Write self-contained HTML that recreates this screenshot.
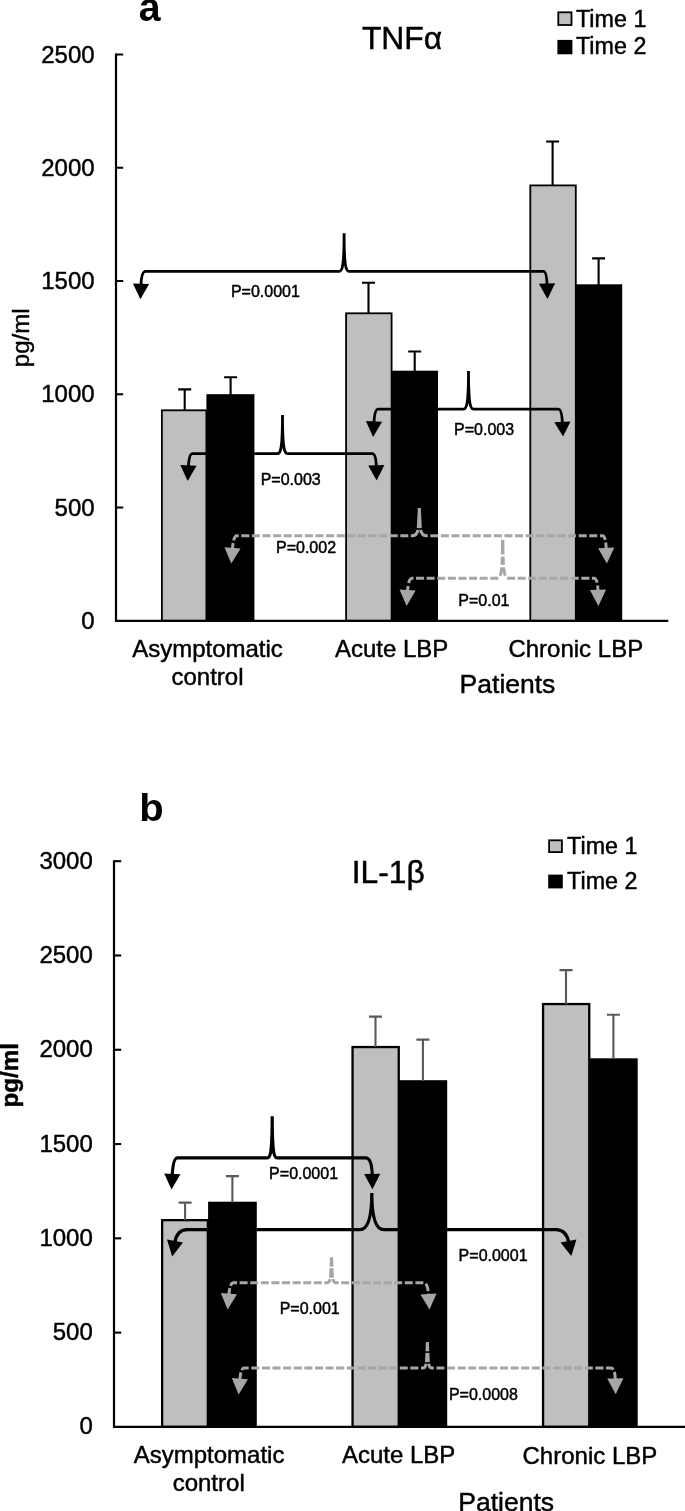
<!DOCTYPE html>
<html><head><meta charset="utf-8"><title>Figure</title>
<style>
html,body{margin:0;padding:0;background:#fff;}
svg{display:block;}
text{font-family:"Liberation Sans",Arial,sans-serif;fill:#000;stroke:#000;stroke-width:0.45px;stroke-linejoin:round;}
</style></head><body>
<svg width="685" height="1511" viewBox="0 0 685 1511">
<rect width="685" height="1511" fill="#fff"/>
<g id="chart-a">
<rect x="161.9" y="410.3" width="44.5" height="210.5" fill="#bfbfbf" stroke="#000" stroke-width="1.8"/>
<rect x="206.4" y="394.2" width="48" height="226.6" fill="#000"/>
<rect x="346.1" y="313.3" width="45.5" height="307.5" fill="#bfbfbf" stroke="#000" stroke-width="1.8"/>
<rect x="391.6" y="370.7" width="46.4" height="250.1" fill="#000"/>
<rect x="530.3" y="185.4" width="45.5" height="435.4" fill="#bfbfbf" stroke="#000" stroke-width="1.8"/>
<rect x="575.8" y="284.3" width="46.4" height="336.5" fill="#000"/>
<path d="M178.2 389.4H191.2M184.7 389.4V410" stroke="#000" stroke-width="2.1" fill="none"/>
<path d="M224.1 377.2H237.1M230.6 377.2V395" stroke="#000" stroke-width="2.1" fill="none"/>
<path d="M362 282.8H375M368.5 282.8V313" stroke="#000" stroke-width="2.1" fill="none"/>
<path d="M408.2 351.5H421.2M414.7 351.5V371" stroke="#000" stroke-width="2.1" fill="none"/>
<path d="M546.1 141.5H559.1M552.6 141.5V185" stroke="#000" stroke-width="2.1" fill="none"/>
<path d="M592.1 258.4H605.1M598.6 258.4V285" stroke="#000" stroke-width="2.1" fill="none"/>
<path d="M116 53.6V620.8H668.3" stroke="#000" stroke-width="2.2" fill="none"/>
<path d="M116 54.5H123.2" stroke="#000" stroke-width="2"/>
<text x="94.6" y="62.7" font-size="24" text-anchor="end">2500</text>
<path d="M116 167.76H123.2" stroke="#000" stroke-width="2"/>
<text x="94.6" y="175.96" font-size="24" text-anchor="end">2000</text>
<path d="M116 281.02H123.2" stroke="#000" stroke-width="2"/>
<text x="94.6" y="289.22" font-size="24" text-anchor="end">1500</text>
<path d="M116 394.28H123.2" stroke="#000" stroke-width="2"/>
<text x="94.6" y="402.48" font-size="24" text-anchor="end">1000</text>
<path d="M116 507.54H123.2" stroke="#000" stroke-width="2"/>
<text x="94.6" y="515.74" font-size="24" text-anchor="end">500</text>
<text x="94.6" y="629" font-size="24" text-anchor="end">0</text>
<path d="M140.93 285.57Q141.47 271.45 145.5 271.45H339.2C342.78 271.45 344.1 263.45 344.1 233.2C344.1 263.45 345.42 271.45 349 271.45H543.5Q546.61 271.45 547.06 285.36" stroke="#000" stroke-width="2.8" fill="none"/>
<path d="M132.91 283.39L149.09 284.01L140.4 299.3Z" fill="#000"/>
<path d="M538.9 283.76L555.1 283.24L547.5 299Z" fill="#000"/>
<path d="M188.36 467.27Q189.02 453.55 192.5 453.55H277.6C281.18 453.55 282.5 445.55 282.5 415.1C282.5 445.55 283.82 453.55 287.4 453.55H372.3Q376 453.55 376.35 467.04" stroke="#000" stroke-width="2.8" fill="none"/>
<path d="M180.36 465.01L196.54 465.79L187.7 481Z" fill="#000"/>
<path d="M368.2 465.41L384.4 464.99L376.7 480.5Z" fill="#000"/>
<path d="M373.89 423.27Q374.71 409.1 378 409.1H463.6C467.18 409.1 468.5 401.1 468.5 371C468.5 401.1 469.82 409.1 473.4 409.1H558.4Q561.78 409.1 562.48 423.64" stroke="#000" stroke-width="2.8" fill="none"/>
<path d="M365.91 420.93L382.09 421.87L373.1 437Z" fill="#000"/>
<path d="M554.31 422.29L570.49 421.51L563.1 436.4Z" fill="#000"/>
<path d="M419.3 508.1L418.3 527.8Q417.7 535.8 411.8 535.8H236.8Q233.41 535.8 232.36 549.7" stroke="#a6a6a6" stroke-width="3.0" fill="none" stroke-dasharray="20 1.5 10.5 2.5 8 2.6 8 2.6 8 2.6 8 2.6 8 2.6 8 2.6 8 2.6 8 2.6 8 2.6 8 2.6 8 2.6 8 2.6 8 2.6 8 2.6 8 2.6 8 2.6 8 2.6 8 2.6 8 2.6 8 2.6 8 2.6 8 2.6 8 2.6 8 2.6 8 2.6 8 2.6 8 2.6 8 2.6 8 2.6 8 2.6 8 2.6 8 2.6 8 2.6 8 2.6 8 2.6 8 2.6 8 2.6 8 2.6 8 2.6 8 2.6 8 2.6 8 2.6 8 2.6 8 2.6 8 2.6"/>
<path d="M419.3 508.1L420.3 527.8Q420.9 535.8 426.8 535.8H602.5Q605.67 535.8 606.28 549.7" stroke="#a6a6a6" stroke-width="3.0" fill="none" stroke-dasharray="20 1.5 10.5 2.5 8 2.6 8 2.6 8 2.6 8 2.6 8 2.6 8 2.6 8 2.6 8 2.6 8 2.6 8 2.6 8 2.6 8 2.6 8 2.6 8 2.6 8 2.6 8 2.6 8 2.6 8 2.6 8 2.6 8 2.6 8 2.6 8 2.6 8 2.6 8 2.6 8 2.6 8 2.6 8 2.6 8 2.6 8 2.6 8 2.6 8 2.6 8 2.6 8 2.6 8 2.6 8 2.6 8 2.6 8 2.6 8 2.6 8 2.6 8 2.6 8 2.6 8 2.6 8 2.6 8 2.6 8 2.6"/>
<path d="M224.42 547.19L240.58 548.41L231.3 563.6Z" fill="#a6a6a6"/>
<path d="M598.11 548.16L614.29 547.44L606.9 563.6Z" fill="#a6a6a6"/>
<path d="M502.7 540L502 566.25Q500.5 578.25 498.5 578.25H412Q408.33 578.25 407.48 591.92" stroke="#a6a6a6" stroke-width="3.0" fill="none" stroke-dasharray="14.3 2.5 8 2.5 8.5 3.5 8 2.6 8 2.6 8 2.6 8 2.6 8 2.6 8 2.6 8 2.6 8 2.6 8 2.6 8 2.6 8 2.6 8 2.6 8 2.6 8 2.6 8 2.6 8 2.6 8 2.6 8 2.6 8 2.6 8 2.6 8 2.6 8 2.6 8 2.6 8 2.6 8 2.6 8 2.6 8 2.6 8 2.6 8 2.6 8 2.6 8 2.6 8 2.6 8 2.6 8 2.6 8 2.6 8 2.6 8 2.6 8 2.6 8 2.6 8 2.6 8 2.6 8 2.6 8 2.6 8 2.6 8 2.6"/>
<path d="M502.7 540L503.4 566.25Q504.9 578.25 506.9 578.25H594Q597.71 578.25 598.05 591.73" stroke="#a6a6a6" stroke-width="3.0" fill="none" stroke-dasharray="14.3 2.5 8 2.5 8.5 3.5 8 2.6 8 2.6 8 2.6 8 2.6 8 2.6 8 2.6 8 2.6 8 2.6 8 2.6 8 2.6 8 2.6 8 2.6 8 2.6 8 2.6 8 2.6 8 2.6 8 2.6 8 2.6 8 2.6 8 2.6 8 2.6 8 2.6 8 2.6 8 2.6 8 2.6 8 2.6 8 2.6 8 2.6 8 2.6 8 2.6 8 2.6 8 2.6 8 2.6 8 2.6 8 2.6 8 2.6 8 2.6 8 2.6 8 2.6 8 2.6 8 2.6 8 2.6 8 2.6 8 2.6 8 2.6"/>
<path d="M399.52 589.49L415.68 590.51L406.6 606Z" fill="#a6a6a6"/>
<path d="M589.9 590L606.1 589.6L598.4 605.9Z" fill="#a6a6a6"/>
<text x="265.4" y="297.1" font-size="16" text-anchor="middle">P=0.0001</text>
<text x="290.7" y="484.6" font-size="16" text-anchor="middle">P=0.003</text>
<text x="484.1" y="434.7" font-size="16" text-anchor="middle">P=0.003</text>
<text x="306" y="553.4" font-size="16" text-anchor="middle">P=0.002</text>
<text x="483.9" y="606.4" font-size="16" text-anchor="middle">P=0.01</text>
<text transform="translate(149.6,21.3) scale(0.98,1)" font-size="40" text-anchor="middle" font-weight="bold" style="stroke:none">a</text>
<text x="402" y="48.5" font-size="31.8" text-anchor="middle">TNFα</text>
<rect x="558.3" y="12.3" width="13.2" height="12.7" fill="#bfbfbf" stroke="#000" stroke-width="1.8"/>
<rect x="557.4" y="39.9" width="15" height="14.4" fill="#000"/>
<text x="576" y="26.6" font-size="23.3">Time 1</text>
<text x="576" y="54.3" font-size="23.3">Time 2</text>
<text transform="translate(28.9,337.8) rotate(-90)" font-size="24" text-anchor="middle">pg/ml</text>
<text x="207.5" y="657.1" font-size="24" text-anchor="middle">Asymptomatic</text>
<text x="207.5" y="684.7" font-size="24" text-anchor="middle">control</text>
<text x="391.6" y="657.1" font-size="24" text-anchor="middle">Acute LBP</text>
<text x="575.8" y="657.1" font-size="24" text-anchor="middle">Chronic LBP</text>
<text x="507.5" y="692.7" font-size="26.5" text-anchor="middle">Patients</text>
</g>
<g id="chart-b">
<rect x="162.15" y="1220.15" width="45.7" height="206.75" fill="#bfbfbf" stroke="#000" stroke-width="2.3"/>
<rect x="208.1" y="1201.7" width="48.7" height="225.2" fill="#000"/>
<rect x="352.55" y="1047.05" width="46.2" height="379.85" fill="#bfbfbf" stroke="#000" stroke-width="2.3"/>
<rect x="399" y="1080.2" width="48.2" height="346.7" fill="#000"/>
<rect x="543.05" y="1004.05" width="46.2" height="422.85" fill="#bfbfbf" stroke="#000" stroke-width="2.3"/>
<rect x="589.5" y="1058.3" width="48.2" height="368.6" fill="#000"/>
<path d="M178.6 1202.6H191.6M185.1 1202.6V1220" stroke="#595959" stroke-width="2.1" fill="none"/>
<path d="M225.9 1176.1H238.9M232.4 1176.1V1202.5" stroke="#595959" stroke-width="2.1" fill="none"/>
<path d="M369 1016.6H382M375.5 1016.6V1047" stroke="#595959" stroke-width="2.1" fill="none"/>
<path d="M416.4 1039.6H429.4M422.9 1039.6V1081" stroke="#595959" stroke-width="2.1" fill="none"/>
<path d="M559.5 970.1H572.5M566 970.1V1004" stroke="#595959" stroke-width="2.1" fill="none"/>
<path d="M606.9 1014.8H619.9M613.4 1014.8V1059" stroke="#595959" stroke-width="2.1" fill="none"/>
<path d="M114 860.3V1426.9H685" stroke="#000" stroke-width="2.2" fill="none"/>
<path d="M114 861.2H121.2" stroke="#000" stroke-width="2.1"/>
<text x="92.8" y="868.7" font-size="24" text-anchor="end">3000</text>
<path d="M114 955.48H121.2" stroke="#000" stroke-width="2.1"/>
<text x="92.8" y="962.98" font-size="24" text-anchor="end">2500</text>
<path d="M114 1049.77H121.2" stroke="#000" stroke-width="2.1"/>
<text x="92.8" y="1057.27" font-size="24" text-anchor="end">2000</text>
<path d="M114 1144.05H121.2" stroke="#000" stroke-width="2.1"/>
<text x="92.8" y="1151.55" font-size="24" text-anchor="end">1500</text>
<path d="M114 1238.33H121.2" stroke="#000" stroke-width="2.1"/>
<text x="92.8" y="1245.83" font-size="24" text-anchor="end">1000</text>
<path d="M114 1332.62H121.2" stroke="#000" stroke-width="2.1"/>
<text x="92.8" y="1340.12" font-size="24" text-anchor="end">500</text>
<text x="92.8" y="1434.4" font-size="24" text-anchor="end">0</text>
<path d="M172.2 1175.77Q173.12 1157.9 177.5 1157.9H267.3C270.88 1157.9 272.2 1149.9 272.2 1116.3C272.2 1149.9 273.52 1157.9 277.1 1157.9H365.5Q371.99 1157.9 372.22 1175.75" stroke="#000" stroke-width="3.2" fill="none"/>
<path d="M164.21 1173.49L180.39 1174.31L171.5 1189.5Z" fill="#000"/>
<path d="M364.1 1174.01L380.3 1173.79L372.4 1189.3Z" fill="#000"/>
<path d="M174.66 1242.85Q177.05 1229.7 187 1229.7H359.8C368.56 1229.7 371.8 1215.7 371.8 1193C371.8 1215.7 375.04 1229.7 383.8 1229.7H556Q566.4 1229.7 568.84 1242.81" stroke="#000" stroke-width="3.2" fill="none"/>
<path d="M167.03 1239.55L182.97 1242.45L172.2 1256.4Z" fill="#000"/>
<path d="M560.54 1242.48L576.46 1239.52L571.3 1256.1Z" fill="#000"/>
<path d="M331.5 1257.5L330.6 1275.8Q330.1 1282.8 327 1282.8H233.5Q229.8 1282.8 228.74 1295.6" stroke="#a6a6a6" stroke-width="3.0" fill="none" stroke-dasharray="9 1.8 9 1.5 8 2.6 8 2.6 8 2.6 8 2.6 8 2.6 8 2.6 8 2.6 8 2.6 8 2.6 8 2.6 8 2.6 8 2.6 8 2.6 8 2.6 8 2.6 8 2.6 8 2.6 8 2.6 8 2.6 8 2.6 8 2.6 8 2.6 8 2.6 8 2.6 8 2.6 8 2.6 8 2.6 8 2.6 8 2.6 8 2.6 8 2.6 8 2.6 8 2.6 8 2.6 8 2.6 8 2.6 8 2.6 8 2.6 8 2.6 8 2.6 8 2.6 8 2.6 8 2.6 8 2.6 8 2.6"/>
<path d="M331.5 1257.5L332.4 1275.8Q332.9 1282.8 336 1282.8H424Q427.79 1282.8 428.62 1295.78" stroke="#a6a6a6" stroke-width="3.0" fill="none" stroke-dasharray="9 1.8 9 1.5 8 2.6 8 2.6 8 2.6 8 2.6 8 2.6 8 2.6 8 2.6 8 2.6 8 2.6 8 2.6 8 2.6 8 2.6 8 2.6 8 2.6 8 2.6 8 2.6 8 2.6 8 2.6 8 2.6 8 2.6 8 2.6 8 2.6 8 2.6 8 2.6 8 2.6 8 2.6 8 2.6 8 2.6 8 2.6 8 2.6 8 2.6 8 2.6 8 2.6 8 2.6 8 2.6 8 2.6 8 2.6 8 2.6 8 2.6 8 2.6 8 2.6 8 2.6 8 2.6 8 2.6 8 2.6"/>
<path d="M220.83 1293.04L236.97 1294.36L227.6 1309.5Z" fill="#a6a6a6"/>
<path d="M420.42 1294.41L436.58 1293.39L429.5 1309.6Z" fill="#a6a6a6"/>
<path d="M427.4 1342.3L426.5 1361.05Q426 1368.05 422.9 1368.05H244Q240.77 1368.05 239.74 1380.5" stroke="#a6a6a6" stroke-width="3.0" fill="none" stroke-dasharray="9 1.6 9 1.5 8 2.6 8 2.6 8 2.6 8 2.6 8 2.6 8 2.6 8 2.6 8 2.6 8 2.6 8 2.6 8 2.6 8 2.6 8 2.6 8 2.6 8 2.6 8 2.6 8 2.6 8 2.6 8 2.6 8 2.6 8 2.6 8 2.6 8 2.6 8 2.6 8 2.6 8 2.6 8 2.6 8 2.6 8 2.6 8 2.6 8 2.6 8 2.6 8 2.6 8 2.6 8 2.6 8 2.6 8 2.6 8 2.6 8 2.6 8 2.6 8 2.6 8 2.6 8 2.6 8 2.6 8 2.6"/>
<path d="M427.4 1342.3L428.3 1361.05Q428.8 1368.05 431.9 1368.05H611Q615.04 1368.05 615.35 1380.3" stroke="#a6a6a6" stroke-width="3.0" fill="none" stroke-dasharray="9 1.6 9 1.5 8 2.6 8 2.6 8 2.6 8 2.6 8 2.6 8 2.6 8 2.6 8 2.6 8 2.6 8 2.6 8 2.6 8 2.6 8 2.6 8 2.6 8 2.6 8 2.6 8 2.6 8 2.6 8 2.6 8 2.6 8 2.6 8 2.6 8 2.6 8 2.6 8 2.6 8 2.6 8 2.6 8 2.6 8 2.6 8 2.6 8 2.6 8 2.6 8 2.6 8 2.6 8 2.6 8 2.6 8 2.6 8 2.6 8 2.6 8 2.6 8 2.6 8 2.6 8 2.6 8 2.6 8 2.6"/>
<path d="M231.83 1377.94L247.97 1379.26L238.6 1394.4Z" fill="#a6a6a6"/>
<path d="M607.2 1378.6L623.4 1378.2L615.7 1394.2Z" fill="#a6a6a6"/>
<text x="303.6" y="1179" font-size="16" text-anchor="middle">P=0.0001</text>
<text x="493.1" y="1261.2" font-size="16" text-anchor="middle">P=0.0001</text>
<text x="309.7" y="1313.6" font-size="16" text-anchor="middle">P=0.001</text>
<text x="483.4" y="1399.5" font-size="16" text-anchor="middle">P=0.0008</text>
<text transform="translate(151.5,820.5) scale(1,0.95)" font-size="40" text-anchor="middle" font-weight="bold" style="stroke:none">b</text>
<text x="388.3" y="882.6" font-size="31.8" text-anchor="middle">IL-1β</text>
<rect x="549.1" y="840.3" width="12.8" height="11.8" fill="#bfbfbf" stroke="#000" stroke-width="1.8"/>
<rect x="548.2" y="874.6" width="14.6" height="13.8" fill="#000"/>
<text x="567.1" y="853.9" font-size="23.3">Time 1</text>
<text x="567.1" y="888.9" font-size="23.3">Time 2</text>
<text transform="translate(17.5,1075.2) rotate(-90)" font-size="24.2" text-anchor="middle" font-weight="bold">pg/ml</text>
<text x="209.1" y="1463.4" font-size="24" text-anchor="middle">Asymptomatic</text>
<text x="208.7" y="1491" font-size="24" text-anchor="middle">control</text>
<text x="398.6" y="1463.4" font-size="24" text-anchor="middle">Acute LBP</text>
<text x="589.9" y="1463.5" font-size="24" text-anchor="middle">Chronic LBP</text>
<text x="506.2" y="1511" font-size="26.5" text-anchor="middle">Patients</text>
</g>
</svg></body></html>
